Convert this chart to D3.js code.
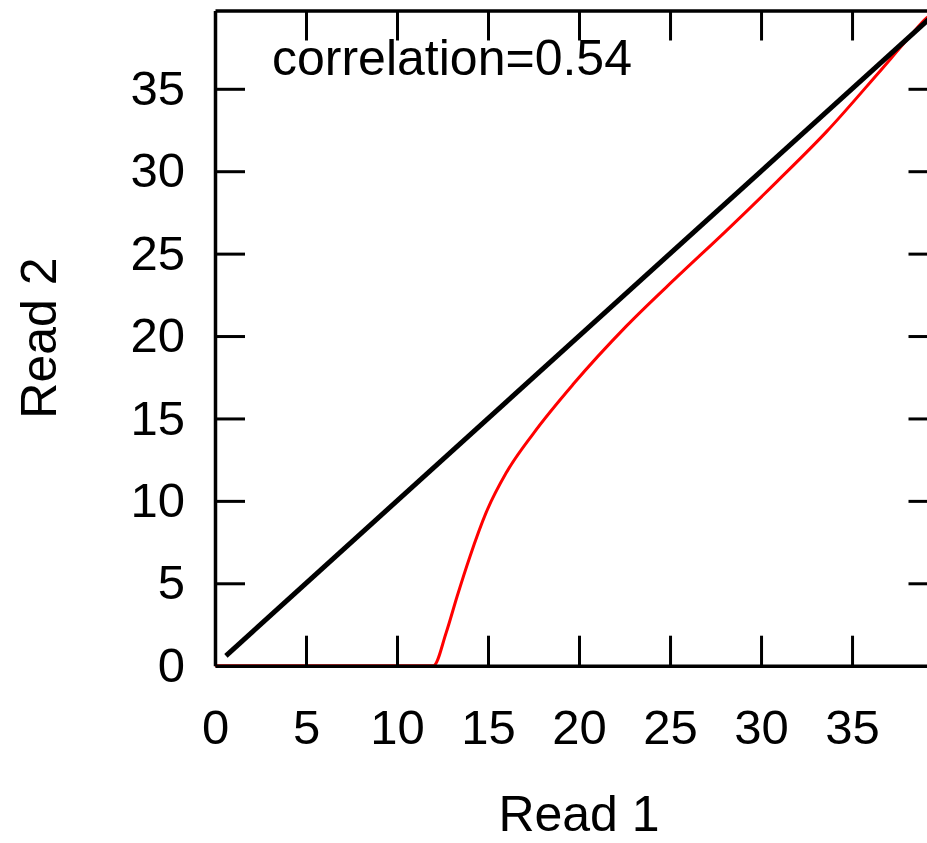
<html>
<head>
<script src="https://d3js.org/d3.v7.min.js"></script>
<style>
body { margin: 0; background: #fff; }
svg { display: block; }
text { font-family: "Liberation Sans", Arial, sans-serif; fill: #000; }
</style>
</head>
<body>
<svg></svg>
<script>

// Data
var ticks = [0, 5, 10, 15, 20, 25, 30, 35];
var read1 = [0, 12.0, 12.7, 13.3, 14.0, 14.9, 16.0, 17.5, 19.7, 22.6, 25.4, 28.1, 30.9, 33.6, 36.4, 38.2, 39.1, 39.75];
var read2 = [0, 0, 2.0, 4.2, 6.6, 9.3, 11.7, 14.1, 17.1, 20.6, 23.6, 26.4, 29.4, 32.4, 35.9, 38.2, 39.3, 39.75];
var diagX = [0.6, 39.75];
var diagY = [0.6, 39.75];
var label = "correlation=0.54";

var width = 927, height = 843;
var plotLeft = 215, plotRight = 938.5, plotTop = 10.5, plotBottom = 665.7;
var tickLen = 30;

var svg = d3.select("svg").attr("width", width).attr("height", height);

var xScale = d3.scaleLinear().domain([0, 39.75]).range([plotLeft, plotRight]);
var yScale = d3.scaleLinear().domain([0, 39.75]).range([plotBottom, plotTop]);

var line = d3.line()
  .x(function (d) { return xScale(d[0]); })
  .y(function (d) { return yScale(d[1]); });

// red curve under the frame
svg.append("path")
  .datum(d3.zip(read1, read2))
  .attr("d", line.curve(d3.curveMonotoneX))
  .attr("fill", "none")
  .attr("stroke", "#ff0000")
  .attr("stroke-width", 3);

// y = x line
svg.append("path")
  .datum(d3.zip(diagX, diagY))
  .attr("d", line.curve(d3.curveLinear))
  .attr("fill", "none")
  .attr("stroke", "#000")
  .attr("stroke-width", 5);

// axes: ticks point inward, labels on left and bottom only
var xBottom = d3.axisBottom(xScale).tickValues(ticks).tickSizeInner(-tickLen).tickSizeOuter(0).tickPadding(44);
var xTop = d3.axisTop(xScale).tickValues(ticks).tickSizeInner(-tickLen).tickSizeOuter(0).tickFormat("");
var yLeft = d3.axisLeft(yScale).tickValues(ticks).tickSizeInner(-tickLen).tickSizeOuter(0).tickPadding(30);
var yRight = d3.axisRight(yScale).tickValues(ticks).tickSizeInner(-tickLen).tickSizeOuter(0).tickFormat("");

function style(g) {
  g.select(".domain").attr("stroke", "#000").attr("stroke-width", 3.5);
  g.selectAll(".tick line").attr("stroke", "#000").attr("stroke-width", 3);
  g.selectAll(".tick text").attr("font-size", 49).attr("font-family", "Liberation Sans, Arial, sans-serif").attr("fill", "#000");
}

svg.append("g").attr("transform", "translate(0," + plotBottom + ")").call(xBottom).call(style);
svg.append("g").attr("transform", "translate(0," + plotTop + ")").call(xTop).call(style);
svg.append("g").attr("transform", "translate(" + plotLeft + ",0)").call(yLeft).call(style);
svg.append("g").attr("transform", "translate(" + plotRight + ",0)").call(yRight).call(style);

// no tick marks at 0, the frame is already there
svg.selectAll(".tick").filter(function (d) { return d === 0; }).select("line").remove();

svg.append("text")
  .attr("x", 272)
  .attr("y", 75)
  .attr("font-size", 50)
  .text(label);

svg.append("text")
  .attr("x", 579)
  .attr("y", 831)
  .attr("text-anchor", "middle")
  .attr("font-size", 50)
  .text("Read 1");

svg.append("text")
  .attr("transform", "translate(56," + ((plotTop + plotBottom) / 2) + ") rotate(-90)")
  .attr("text-anchor", "middle")
  .attr("font-size", 50)
  .text("Read 2");

</script>
</body>
</html>
